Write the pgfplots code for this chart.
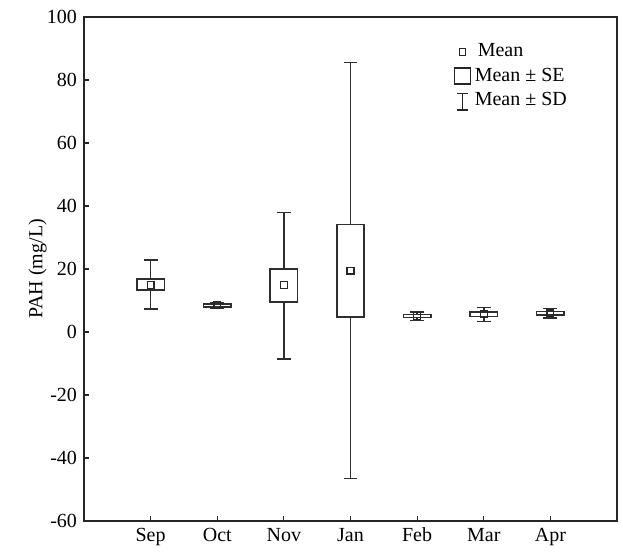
\documentclass[border=0pt]{standalone}
\usepackage{fontspec}
\setmainfont{Liberation Serif}
\usepackage{pgfplots}
\usepgfplotslibrary{statistics}
\pgfplotsset{compat=1.18}
\begin{document}
\begin{tikzpicture}
\begin{axis}[
  name=ax,
  scale only axis, width=266.5pt, height=252pt,
  xmin=-1, xmax=7, ymin=-60, ymax=100,
  xtick={0,1,2,3,4,5,6},
  xticklabels={Sep,Oct,Nov,Jan,Feb,Mar,Apr},
  ytick={-60,-40,-20,0,20,40,60,80,100},
  tick align=inside, tick pos=left, major tick length=2.5pt,
  /pgf/number format/assume math mode=true,
  ylabel={PAH (mg/L)},
  ylabel style={at={(axis description cs:-0.087,0.5)}, anchor=center},
  axis line style={line width=0.7pt, black!85},
  tick style={black!85, line width=0.6pt},
  boxplot/draw direction=y,
  boxplot/box extend=0.41,
  boxplot/whisker extend=0.21,
  boxplot/draw/median/.code={},
  legend style={at={(axis cs:4.52,93.5)}, anchor=north west, draw=none, fill=none, row sep=0pt, inner sep=1pt, cells={anchor=west}},
  legend cell align=left,
]
\pgfplotsset{mybox/.style={forget plot, mark=none, draw=black!82, line width=0.75pt}}
\addplot[mybox, boxplot prepared={draw position=0, lower whisker=7.3, lower quartile=13.3, median=15.0, upper quartile=16.8, upper whisker=22.8}] coordinates {};
\addplot[mybox, boxplot prepared={draw position=1, lower whisker=7.5, lower quartile=8.0, median=8.5, upper quartile=8.9, upper whisker=9.4}] coordinates {};
\addplot[mybox, boxplot prepared={draw position=2, lower whisker=-8.5, lower quartile=9.6, median=15.0, upper quartile=20.0, upper whisker=38.0}] coordinates {};
\addplot[mybox, boxplot prepared={draw position=3, lower whisker=-46.5, lower quartile=4.7, median=19.5, upper quartile=34.2, upper whisker=85.5}] coordinates {};
\addplot[mybox, boxplot prepared={draw position=4, lower whisker=3.7, lower quartile=4.6, median=5.1, upper quartile=5.6, upper whisker=6.3}] coordinates {};
\addplot[mybox, boxplot prepared={draw position=5, lower whisker=3.4, lower quartile=4.9, median=5.6, upper quartile=6.4, upper whisker=7.8}] coordinates {};
\addplot[mybox, boxplot prepared={draw position=6, lower whisker=4.5, lower quartile=5.4, median=5.9, upper quartile=6.5, upper whisker=7.4}] coordinates {};
\addplot[forget plot, only marks, mark=square, mark size=1.7pt, black!85, mark options={line width=0.65pt}] coordinates {
(0,15.0) (1,8.5) (2,15.0) (3,19.5) (4,5.1) (5,5.6) (6,5.9)};
\addlegendimage{legend image code/.code={\draw[black!85, line width=0.55pt] (0.08cm,-0.055cm) rectangle (0.19cm,0.055cm);}}
\addlegendentry{\hspace{1.5pt}Mean}
\addlegendimage{legend image code/.code={\draw[black!85, line width=0.65pt] (0.0cm,-0.14cm) rectangle (0.27cm,0.14cm);}}
\addlegendentry{Mean ± SE}
\addlegendimage{legend image code/.code={\draw[black!85, line width=0.65pt] (0.04cm,0.12cm)--(0.24cm,0.12cm) (0.14cm,0.12cm)--(0.14cm,-0.17cm) (0.04cm,-0.17cm)--(0.24cm,-0.17cm);}}
\addlegendentry{Mean ± SD}
\end{axis}
\pgfresetboundingbox
\path ([shift={(-42pt,-15.5pt)}]ax.south west) rectangle ([shift={(3pt,8.5pt)}]ax.north east);
\end{tikzpicture}
\end{document}
